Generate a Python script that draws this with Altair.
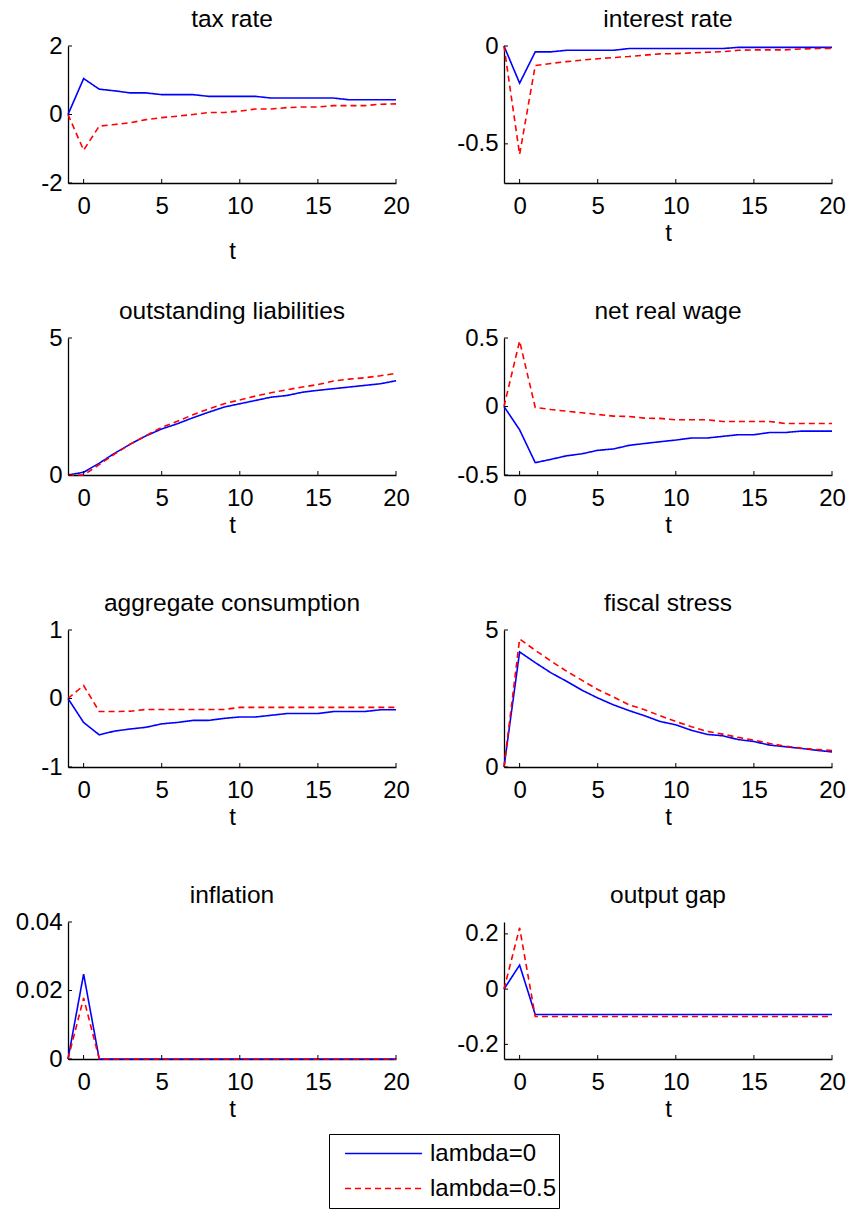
import altair as alt
import pandas as pd

# ---------------- data ----------------
t_values = list(range(-1, 21))
series_names = ["lambda=0", "lambda=0.5"]
x_ticks = [0, 5, 10, 15, 20]

panel_titles = ["tax rate", "interest rate", "outstanding liabilities", "net real wage",
                "aggregate consumption", "fiscal stress", "inflation", "output gap"]

tax_blue = [0, 1.05, 0.74, 0.69, 0.63, 0.63, 0.58, 0.58, 0.58, 0.53, 0.53, 0.53, 0.53,
            0.48, 0.48, 0.48, 0.48, 0.48, 0.43, 0.43, 0.43, 0.43]
tax_red = [0, -1.04, -0.34, -0.29, -0.24, -0.15, -0.09, -0.05, 0.0, 0.06, 0.06, 0.10, 0.16,
           0.16, 0.20, 0.22, 0.22, 0.26, 0.26, 0.26, 0.30, 0.31]

int_blue = [0, -0.19, -0.03, -0.03, -0.022, -0.022, -0.022, -0.022, -0.013, -0.013, -0.013,
            -0.013, -0.013, -0.013, -0.013, -0.007, -0.007, -0.007, -0.007, -0.007, -0.007, -0.007]
int_red = [0, -0.554, -0.10, -0.089, -0.08, -0.072, -0.065, -0.059, -0.054, -0.047, -0.040,
           -0.039, -0.035, -0.032, -0.029, -0.022, -0.02, -0.02, -0.02, -0.015, -0.013, -0.012]

liab_blue = [0, 0.10, 0.43, 0.80, 1.13, 1.43, 1.68, 1.87, 2.09, 2.29, 2.48, 2.60, 2.72, 2.84,
             2.90, 3.02, 3.09, 3.15, 3.21, 3.27, 3.33, 3.44]
liab_red = [0, 0.0, 0.38, 0.77, 1.13, 1.44, 1.74, 1.96, 2.20, 2.41, 2.60, 2.74, 2.88, 3.00,
            3.11, 3.21, 3.30, 3.43, 3.50, 3.55, 3.62, 3.71]

wage_blue = [0, -0.17, -0.41, -0.386, -0.36, -0.345, -0.32, -0.31, -0.284, -0.27, -0.257,
             -0.245, -0.23, -0.23, -0.218, -0.206, -0.206, -0.19, -0.19, -0.18, -0.18, -0.18]
wage_red = [0, 0.478, -0.007, -0.022, -0.034, -0.046, -0.058, -0.07, -0.073, -0.085, -0.087,
            -0.097, -0.097, -0.097, -0.109, -0.109, -0.109, -0.109, -0.124, -0.124, -0.124, -0.124]

cons_blue = [0, -0.35, -0.53, -0.475, -0.445, -0.42, -0.37, -0.35, -0.32, -0.32, -0.29, -0.27,
             -0.27, -0.245, -0.22, -0.22, -0.22, -0.19, -0.19, -0.19, -0.165, -0.165]
cons_red = [0, 0.19, -0.19, -0.19, -0.185, -0.16, -0.16, -0.16, -0.16, -0.16, -0.16, -0.13,
            -0.13, -0.13, -0.13, -0.13, -0.13, -0.13, -0.13, -0.13, -0.13, -0.13]

stress_blue = [0, 4.20, 3.81, 3.44, 3.13, 2.80, 2.52, 2.27, 2.06, 1.87, 1.66, 1.54, 1.34, 1.19,
               1.14, 1.00, 0.93, 0.80, 0.74, 0.68, 0.61, 0.55]
stress_red = [0, 4.67, 4.26, 3.87, 3.50, 3.16, 2.83, 2.56, 2.27, 2.09, 1.87, 1.66, 1.47, 1.30,
              1.20, 1.08, 0.98, 0.86, 0.76, 0.69, 0.64, 0.60]

infl_blue = [0, 0.0248, 0, 0, 0, 0, 0, 0, 0, 0, 0, 0, 0, 0, 0, 0, 0, 0, 0, 0, 0, 0]
infl_red = [0, 0.0178, 0, 0, 0, 0, 0, 0, 0, 0, 0, 0, 0, 0, 0, 0, 0, 0, 0, 0, 0, 0]

gap_blue = [0, 0.087, -0.092, -0.092, -0.092, -0.092, -0.092, -0.092, -0.092, -0.092, -0.092,
            -0.092, -0.092, -0.092, -0.092, -0.092, -0.092, -0.092, -0.092, -0.092, -0.092, -0.092]
gap_red = [0, 0.222, -0.099, -0.099, -0.099, -0.099, -0.099, -0.099, -0.099, -0.099, -0.099,
           -0.099, -0.099, -0.099, -0.099, -0.099, -0.099, -0.099, -0.099, -0.099, -0.099, -0.099]

y_domains = [[-2, 2], [-0.7, 0], [0, 5], [-0.5, 0.5], [-1, 1], [0, 5], [0, 0.04], [-0.253, 0.243]]
y_ticks = [[-2, 0, 2], [-0.5, 0], [0, 5], [-0.5, 0, 0.5], [-1, 0, 1], [0, 5], [0, 0.02, 0.04],
           [-0.2, 0, 0.2]]
blues = [tax_blue, int_blue, liab_blue, wage_blue, cons_blue, stress_blue, infl_blue, gap_blue]
reds = [tax_red, int_red, liab_red, wage_red, cons_red, stress_red, infl_red, gap_red]

# ---------------- style ----------------
FONT = "Liberation Sans"
FS = 24
FS_TITLE = 24.5
W, H = 328, 137
PAD_L, PAD_T = 68, 46

legend = alt.Legend(
    title=None, orient="none", legendX=261, legendY=1088, direction="vertical",
    symbolType="stroke", symbolSize=5929, symbolStrokeWidth=1.6, clipHeight=35,
    labelFont=FONT, labelFontSize=FS, labelColor="black", labelOffset=7,
    symbolOffset=13, padding=2, rowPadding=0, strokeColor="black", fillColor="white",
)
color_enc = alt.Color("series:N", scale=alt.Scale(domain=series_names, range=["#0000ff", "#ff0000"]),
                      legend=legend)
dash_enc = alt.StrokeDash("series:N", scale=alt.Scale(domain=series_names, range=[[1, 0], [6, 4]]),
                          legend=legend)


def panel(i):
    df = pd.DataFrame({
        "t": t_values + t_values,
        "value": blues[i] + reds[i],
        "series": [series_names[0]] * len(t_values) + [series_names[1]] * len(t_values),
    })
    xs = alt.Scale(domain=[-1, 20], nice=False, zero=False)
    ys = alt.Scale(domain=y_domains[i], nice=False, zero=False)
    title_y = 75 if i == 0 else 57
    title_offset = 13 if i == 7 else 2
    x_axis = alt.Axis(values=x_ticks, title="t", titleY=title_y)
    y_axis = alt.Axis(values=y_ticks[i], title="", labelExpr="'' + datum.value")
    lines = alt.Chart(df).mark_line(strokeWidth=1.6).encode(
        x=alt.X("t:Q", scale=xs, axis=x_axis),
        y=alt.Y("value:Q", scale=ys, axis=y_axis),
        color=color_enc,
        strokeDash=dash_enc,
    )
    xt = alt.Chart(pd.DataFrame({"t": x_ticks})).mark_rule(color="black", strokeWidth=1).encode(
        x=alt.X("t:Q", scale=xs, axis=x_axis), y=alt.value(H), y2=alt.value(H - 4))
    yt = alt.Chart(pd.DataFrame({"value": y_ticks[i]})).mark_rule(color="black", strokeWidth=1).encode(
        y=alt.Y("value:Q", scale=ys, axis=y_axis), x=alt.value(0), x2=alt.value(4))
    return alt.layer(lines, xt, yt).properties(
        width=W, height=H,
        title=alt.TitleParams(panel_titles[i], font=FONT, fontSize=FS_TITLE, fontWeight="normal",
                              color="black", anchor="middle", frame="group", offset=title_offset),
    )


chart = alt.concat(*[panel(i) for i in range(8)], columns=2,
                   spacing={"row": 155, "column": 108}, bounds="flush").properties(
    autosize=alt.AutoSizeParams(type="none"),
    padding={"left": PAD_L, "top": PAD_T, "right": 849 - PAD_L, "bottom": 1211 - PAD_T},
    background="white",
).configure_view(strokeWidth=0).configure_axis(
    grid=False, ticks=False, tickSize=0, domainColor="black", domainWidth=1.3,
    labelFont=FONT, labelFontSize=FS, labelColor="black",
    titleFont=FONT, titleFontSize=FS, titleColor="black", titleFontWeight="normal",
).configure_axisX(
    labelPadding=30, labelBaseline="alphabetic", titleBaseline="alphabetic", labelFlush=False,
).configure_axisY(
    labelPadding=6, labelAlign="right", labelBaseline="middle",
)

chart.save("out.html", embed_options={"renderer": "svg", "actions": False})
